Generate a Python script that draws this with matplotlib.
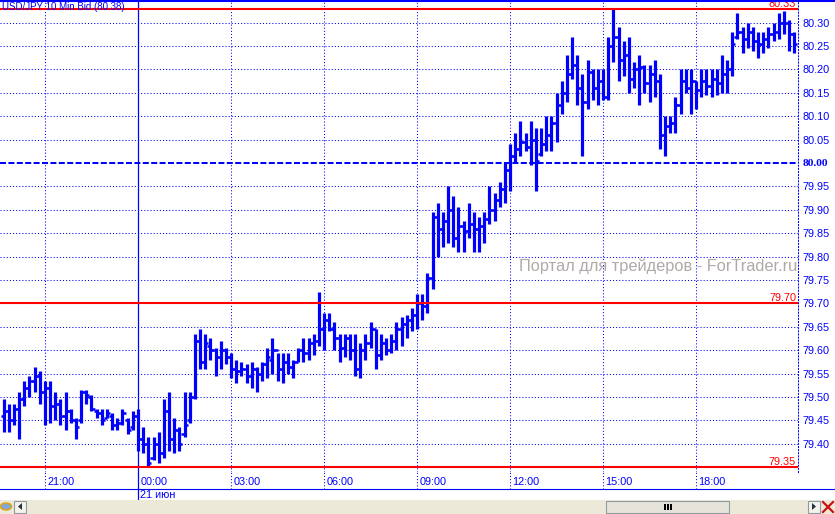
import matplotlib
matplotlib.use("Agg")
import numpy as np
import matplotlib.pyplot as plt
from matplotlib.patches import Rectangle, Polygon, Circle
from matplotlib.lines import Line2D
import matplotlib.transforms as mtransforms

plt.rcParams['font.family'] = ['Liberation Sans', 'DejaVu Sans']

# ---------------- data (USD/JPY 10 min bars, index 0 = 00:00 21 June) ----------------
first_index = -26
highs = [
    79.495, 79.485, 79.485, 79.51, 79.535, 79.545, 79.565, 79.555, 79.535, 79.535,
    79.51, 79.495, 79.51, 79.475, 79.455, 79.515, 79.515, 79.505, 79.475, 79.475,
    79.475, 79.465, 79.455, 79.475, 79.455, 79.47, 79.475, 79.435, 79.415, 79.415,
    79.425, 79.495, 79.51, 79.455, 79.435, 79.51, 79.51, 79.635, 79.645, 79.635,
    79.625, 79.605, 79.62, 79.605, 79.595, 79.58, 79.575, 79.57, 79.575, 79.565,
    79.575, 79.605, 79.625, 79.595, 79.595, 79.595, 79.58, 79.605, 79.625, 79.625,
    79.635, 79.725, 79.68, 79.68, 79.66, 79.635, 79.635, 79.635, 79.635, 79.615,
    79.635, 79.66, 79.645, 79.635, 79.625, 79.635, 79.66, 79.67, 79.675, 79.69, 79.72,
    79.72, 79.765, 79.895, 79.915, 79.895, 79.95, 79.93, 79.905, 79.875, 79.915,
    79.895, 79.885, 79.895, 79.95, 79.935, 79.96, 80.00, 80.04, 80.065, 80.09,
    80.065, 80.09, 80.075, 80.075, 80.10, 80.10, 80.15, 80.175, 80.23, 80.27,
    80.23, 80.19, 80.22, 80.20, 80.20, 80.20, 80.27, 80.33, 80.29, 80.26,
    80.27, 80.215, 80.23, 80.21, 80.21, 80.22, 80.19, 80.10, 80.10, 80.14, 80.20,
    80.20, 80.20, 80.175, 80.20, 80.20, 80.20, 80.20, 80.23, 80.22, 80.28,
    80.32, 80.29, 80.30, 80.29, 80.28, 80.28, 80.29, 80.30, 80.32, 80.325, 80.305, 80.28,
]
lows = [
    79.425, 79.425, 79.44, 79.41, 79.48, 79.50, 79.51, 79.485, 79.44, 79.445,
    79.45, 79.44, 79.43, 79.445, 79.41, 79.445, 79.485, 79.47, 79.455, 79.44,
    79.455, 79.43, 79.43, 79.44, 79.42, 79.43, 79.385, 79.38, 79.35, 79.365,
    79.36, 79.37, 79.385, 79.38, 79.385, 79.415, 79.445, 79.495, 79.56, 79.56,
    79.58, 79.545, 79.56, 79.57, 79.54, 79.53, 79.545, 79.53, 79.52, 79.51,
    79.535, 79.54, 79.55, 79.535, 79.53, 79.55, 79.54, 79.575, 79.575, 79.58,
    79.59, 79.61, 79.60, 79.64, 79.60, 79.575, 79.585, 79.58, 79.545, 79.54,
    79.58, 79.605, 79.56, 79.58, 79.59, 79.595, 79.60, 79.61, 79.625, 79.64, 79.645,
    79.665, 79.68, 79.73, 79.80, 79.82, 79.83, 79.82, 79.81, 79.81, 79.84,
    79.81, 79.81, 79.83, 79.87, 79.875, 79.905, 79.915, 79.94, 80.00, 80.015,
    80.025, 79.995, 79.94, 80.015, 80.025, 80.025, 80.045, 80.105, 80.13, 80.18,
    80.125, 80.015, 80.115, 80.135, 80.125, 80.135, 80.135, 80.215, 80.175, 80.185,
    80.15, 80.16, 80.125, 80.15, 80.13, 80.14, 80.03, 80.015, 80.065, 80.065, 80.105,
    80.15, 80.105, 80.115, 80.14, 80.145, 80.14, 80.145, 80.15, 80.15, 80.185,
    80.265, 80.235, 80.245, 80.24, 80.225, 80.235, 80.245, 80.26, 80.265, 80.275, 80.24, 80.235,
]
opens = [
    79.46, 79.47, 79.45, 79.475, 79.495, 79.52, 79.535, 79.545, 79.51, 79.52,
    79.48, 79.485, 79.46, 79.47, 79.45, 79.45, 79.51, 79.50, 79.47, 79.465,
    79.455, 79.46, 79.44, 79.445, 79.45, 79.435, 79.46, 79.41, 79.40, 79.37,
    79.40, 79.38, 79.47, 79.41, 79.43, 79.42, 79.45, 79.50, 79.62, 79.575,
    79.61, 79.60, 79.585, 79.60, 79.585, 79.56, 79.555, 79.56, 79.545, 79.56,
    79.55, 79.57, 79.58, 79.60, 79.56, 79.575, 79.565, 79.575, 79.60, 79.595,
    79.615, 79.62, 79.645, 79.665, 79.645, 79.625, 79.605, 79.625, 79.60, 79.56,
    79.60, 79.615, 79.645, 79.59, 79.615, 79.60, 79.62, 79.645, 79.655, 79.665, 79.675,
    79.70, 79.695, 79.755, 79.885, 79.86, 79.875, 79.90, 79.84, 79.865, 79.855,
    79.87, 79.86, 79.865, 79.88, 79.90, 79.92, 79.945, 79.985, 80.015, 80.03,
    80.045, 80.035, 80.05, 80.02, 80.04, 80.06, 80.085, 80.125, 80.15, 80.19,
    80.21, 80.16, 80.13, 80.195, 80.16, 80.175, 80.14, 80.25, 80.27, 80.22,
    80.23, 80.18, 80.20, 80.205, 80.17, 80.19, 80.175, 80.06, 80.08, 80.085, 80.125,
    80.175, 80.16, 80.175, 80.155, 80.175, 80.165, 80.18, 80.17, 80.19, 80.20,
    80.27, 80.28, 80.265, 80.28, 80.26, 80.255, 80.265, 80.275, 80.28, 80.30, 80.30, 80.275,
]
closes = [
    79.47, 79.45, 79.475, 79.495, 79.52, 79.535, 79.545, 79.51, 79.52, 79.48,
    79.485, 79.46, 79.47, 79.45, 79.435, 79.51, 79.505, 79.475, 79.465, 79.45,
    79.465, 79.44, 79.445, 79.465, 79.43, 79.46, 79.41, 79.40, 79.36, 79.40,
    79.38, 79.47, 79.41, 79.43, 79.40, 79.44, 79.50, 79.62, 79.575, 79.615,
    79.60, 79.585, 79.60, 79.585, 79.56, 79.555, 79.56, 79.545, 79.56, 79.55,
    79.57, 79.585, 79.60, 79.56, 79.575, 79.565, 79.575, 79.60, 79.595, 79.615,
    79.62, 79.645, 79.665, 79.645, 79.625, 79.605, 79.625, 79.60, 79.56, 79.60,
    79.615, 79.645, 79.59, 79.615, 79.60, 79.62, 79.645, 79.655, 79.665, 79.675, 79.70,
    79.695, 79.755, 79.885, 79.86, 79.875, 79.90, 79.84, 79.865, 79.855, 79.87,
    79.86, 79.865, 79.88, 79.90, 79.92, 79.945, 79.985, 80.015, 80.03, 80.045,
    80.035, 80.05, 80.005, 80.04, 80.06, 80.085, 80.125, 80.15, 80.19, 80.21,
    80.16, 80.13, 80.195, 80.16, 80.175, 80.14, 80.25, 80.27, 80.22, 80.23,
    80.18, 80.20, 80.205, 80.17, 80.19, 80.175, 80.06, 80.08, 80.085, 80.125, 80.175,
    80.16, 80.175, 80.155, 80.175, 80.165, 80.18, 80.17, 80.19, 80.20, 80.255,
    80.28, 80.265, 80.28, 80.26, 80.255, 80.265, 80.275, 80.28, 80.30, 80.30, 80.275, 80.255,
]
price_ticks = [79.40, 79.45, 79.50, 79.55, 79.60, 79.65, 79.70, 79.75, 79.80, 79.85,
               79.90, 79.95, 80.00, 80.05, 80.10, 80.15, 80.20, 80.25, 80.30]
level_lines = [80.33, 79.70, 79.35]
pivot_level = 80.00
time_positions = [-18, 0, 18, 36, 54, 72, 90, 108]
time_labels = ['21:00', '00:00', '03:00', '06:00', '09:00', '12:00', '15:00', '18:00']
date_label = '21 июн'
title = 'USD/JPY 10 Min Bid (80.38)'
watermark = 'Портал для трейдеров - ForTrader.ru'

# ---------------- layout (pixels) ----------------
W, H = 835, 514
PLOT_R, PLOT_B = 798, 472
BAR_PX = 5.167          # pixels per bar
X_ZERO = 138            # pixel of 00:00
PX_PER_UNIT = 468       # pixels per 1.00 JPY
Y_PIVOT = 163           # pixel of 80.00
BLUE = '#0000ff'
RED = '#ff0000'

fig = plt.figure(figsize=(W / 100, H / 100), dpi=100)
fig.patch.set_facecolor('white')

def fx(x):
    return x / W

def fy(y):
    return 1 - y / H

xlim = (-X_ZERO / BAR_PX, (PLOT_R - X_ZERO) / BAR_PX)
ylim = (pivot_level - (PLOT_B - Y_PIVOT) / PX_PER_UNIT, pivot_level + Y_PIVOT / PX_PER_UNIT)

ax = fig.add_axes([0, fy(PLOT_B), PLOT_R / W, PLOT_B / H])
ax.set_xlim(*xlim)
ax.set_ylim(*ylim)
ax.set_facecolor('white')
for s in ['top', 'left', 'bottom']:
    ax.spines[s].set_visible(False)
ax.spines['right'].set_color(BLUE)
ax.spines['right'].set_linewidth(0.75)
ax.spines['right'].set_linestyle((0, (1, 2)))

# grid
grid_vals = [v for v in price_ticks if abs(v - pivot_level) > 1e-9]
ax.hlines(grid_vals, xlim[0], xlim[1], colors=BLUE, linewidth=0.75,
          linestyles=(0, (1, 2)), zorder=1)
for tp in time_positions:
    if tp == 0:
        ax.axvline(tp, color=BLUE, lw=0.9, zorder=1)
    else:
        ax.axvline(tp, color=BLUE, lw=0.75, linestyle=(0, (1, 2)), zorder=1)

# pivot dashed line
ax.axhline(pivot_level, color=BLUE, lw=1.44, linestyle=(0, (3, 1.2)), zorder=4)

# OHLC bars
idx = np.arange(first_index, first_index + len(highs))
ax.vlines(idx, lows, highs, colors=BLUE, linewidth=2.3, zorder=3)
ax.hlines(opens, idx - 0.6, idx, colors=BLUE, linewidth=1.8, zorder=3)
ax.hlines(closes, idx, idx + 0.6, colors=BLUE, linewidth=1.8, zorder=3)

# red levels
trans_r = mtransforms.blended_transform_factory(ax.transAxes, ax.transData)
for lv in level_lines:
    ax.axhline(lv, color=RED, lw=1.5, zorder=5)
    ax.text(796 / PLOT_R, lv, f'{lv:.2f}', transform=trans_r, ha='right', va='bottom',
            color=RED, fontsize=7.8, zorder=6, clip_on=True)

# right price labels
ax.yaxis.tick_right()
ax.set_yticks(price_ticks)
ax.set_yticklabels([f'{v:.2f}' for v in price_ticks])
ax.tick_params(axis='y', length=0, pad=3, labelcolor=BLUE, labelsize=7.8)
for lab, v in zip(ax.get_yticklabels(), price_ticks):
    if abs(v - pivot_level) < 1e-9:
        lab.set_fontweight('bold')
        lab.set_family(['Liberation Serif', 'DejaVu Serif'])
        lab.set_fontsize(8.2)
ax.set_xticks([])

# watermark
ax.text(797 / PLOT_R, 1 - 266 / PLOT_B, watermark, transform=ax.transAxes,
        ha='right', va='center', color='#b2a8a8', fontsize=11.8, zorder=2)

# time band
band = fig.add_axes([0, fy(489), PLOT_R / W, (489 - PLOT_B) / H])
band.set_xlim(*xlim)
band.set_ylim(0, 1)
band.axis('off')
for tp, tl in zip(time_positions, time_labels):
    if tp == 0:
        band.axvline(tp, color=BLUE, lw=0.9)
    else:
        band.axvline(tp, color=BLUE, lw=0.75, linestyle=(0, (1, 2)))
    band.text(tp + 0.45, 0.42, tl, color=BLUE, fontsize=7.8, ha='left', va='center')

# date band
dband = fig.add_axes([0, fy(500), PLOT_R / W, (500 - 489) / H])
dband.set_xlim(*xlim)
dband.set_ylim(0, 1)
dband.axis('off')
dband.axvline(0, color=BLUE, lw=0.9)
dband.text(0.45, 0.45, date_label, color=BLUE, fontsize=7.8, ha='left', va='center')

# figure-level frame lines
fig.add_artist(Line2D([0, 1], [fy(1), fy(1)], color=BLUE, lw=1.5))
fig.add_artist(Line2D([0, 1], [fy(489), fy(489)], color=BLUE, lw=0.8))

# scrollbar
def rect(x0, y0, x1, y1, **kw):
    fig.add_artist(Rectangle((fx(x0), fy(y1)), fx(x1) - fx(x0), fy(y0) - fy(y1),
                             transform=fig.transFigure, **kw))

rect(0, 500, W, H, facecolor='#ece9d8', edgecolor='none')
rect(606, 500.5, 729, 513, facecolor='#e6e3da', edgecolor='#8e9ba3', lw=0.8)
for gx in [664, 667, 670]:
    rect(gx, 504, gx + 1.6, 510, facecolor='black', edgecolor='none')
# left button
rect(14, 500.5, 26, 513, facecolor='#f4f2ea', edgecolor='#8e9ba3', lw=0.8)
fig.add_artist(Polygon([(fx(18), fy(506.5)), (fx(22), fy(503)), (fx(22), fy(510))],
                       closed=True, transform=fig.transFigure, facecolor='#223344'))
# right button
rect(808, 500.5, 820, 513, facecolor='#f4f2ea', edgecolor='#8e9ba3', lw=0.8)
fig.add_artist(Polygon([(fx(816), fy(506.5)), (fx(812), fy(503)), (fx(812), fy(510))],
                       closed=True, transform=fig.transFigure, facecolor='#223344'))
# globe icon
fig.add_artist(Circle((fx(6), fy(506.5)), 5.5 / W, transform=fig.transFigure,
                      facecolor='#7fa7d8', edgecolor='#d9a520', lw=1.2))
# red X icon
fig.add_artist(Line2D([fx(823), fx(833)], [fy(502), fy(512)], color='#cc1111', lw=1.6))
fig.add_artist(Line2D([fx(823), fx(833)], [fy(512), fy(502)], color='#cc1111', lw=1.6))

# title
fig.text(fx(2), fy(7), title, color=BLUE, fontsize=7.0, ha='left', va='center')

fig.savefig('out.png', dpi=100, facecolor='white')
